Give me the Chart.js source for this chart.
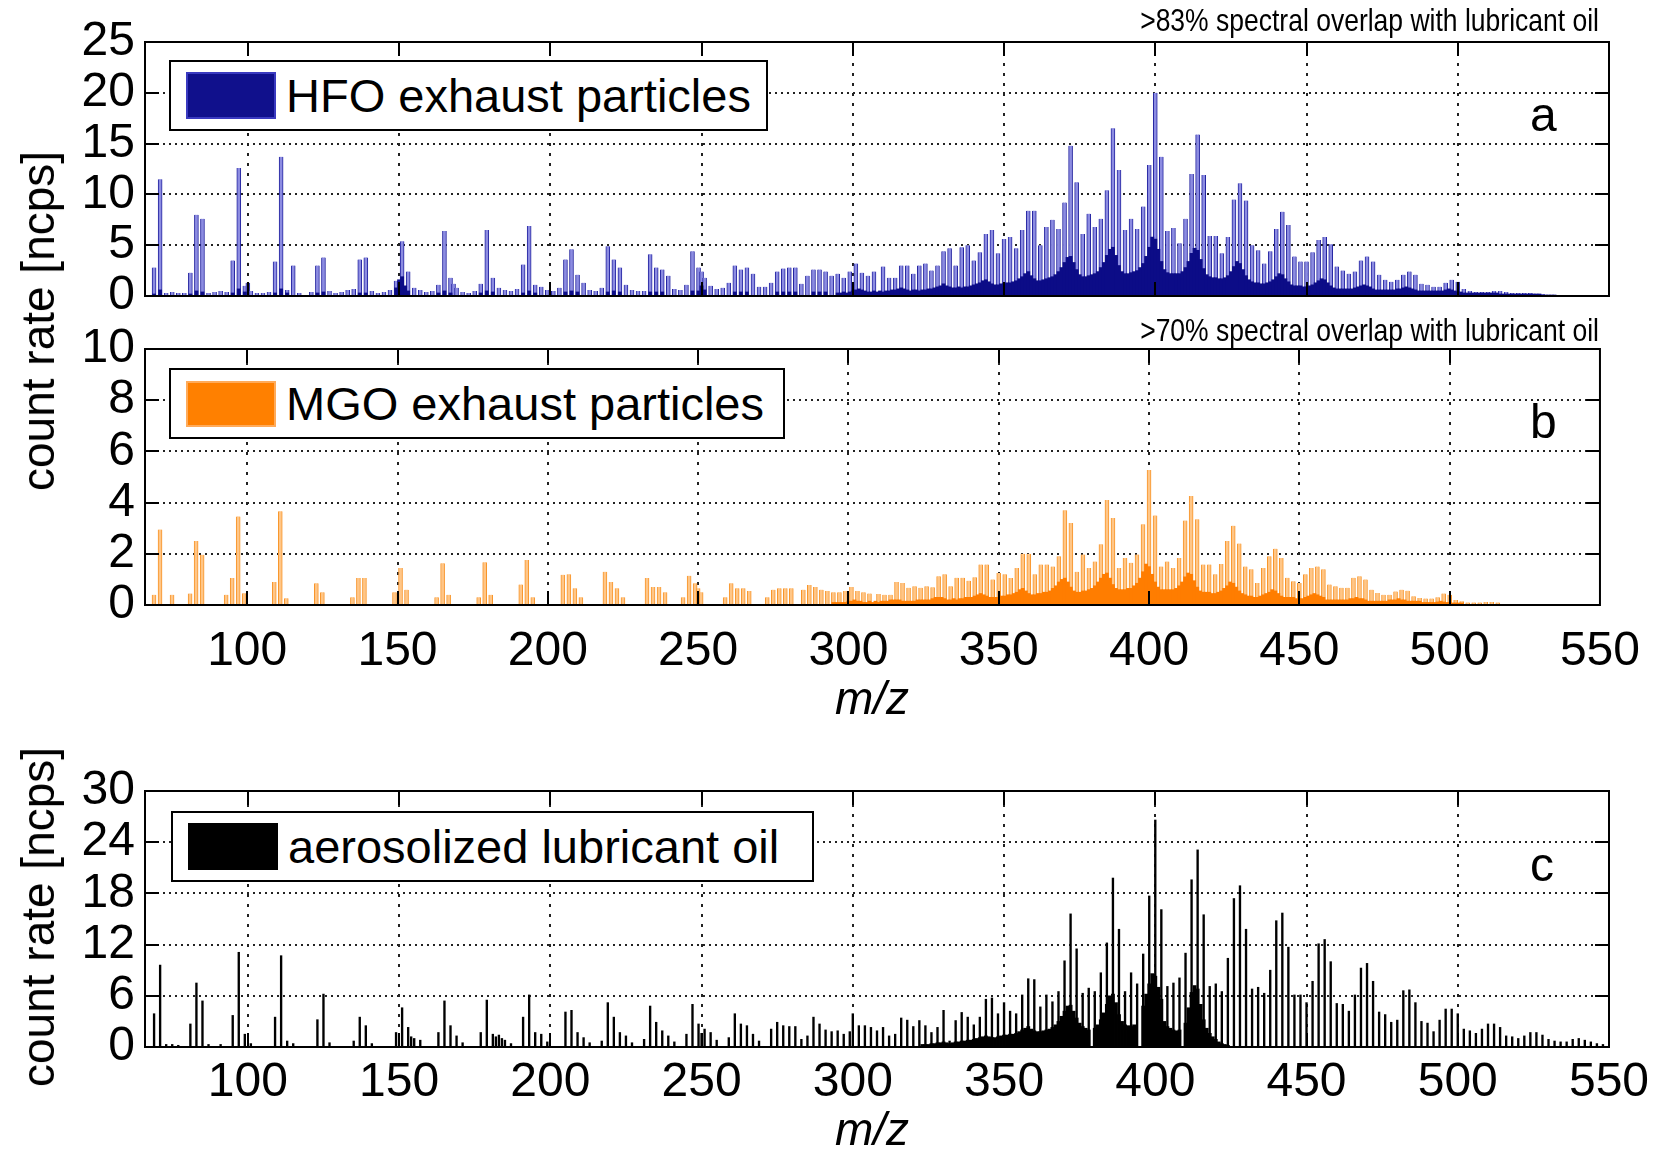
<!DOCTYPE html>
<html>
<head>
<meta charset="utf-8">
<script src="https://cdn.jsdelivr.net/npm/chart.js@4.4.1/dist/chart.umd.min.js"></script>
<style>
html,body{margin:0;padding:0;background:#fff;}
#wrap{position:relative;width:1658px;height:1153px;overflow:hidden;font-family:"Liberation Sans",Arial,Helvetica,sans-serif;color:#000;}
canvas{position:absolute;left:0;top:0;}
.ylab{position:absolute;transform:translate(-50%,-50%) rotate(-90deg);white-space:nowrap;font-size:46px;line-height:1;}
.xlab{position:absolute;transform:translate(-50%,-50%);white-space:nowrap;font-size:46px;line-height:1;font-style:italic;}
.ann{position:absolute;right:59px;white-space:nowrap;font-size:26.5px;line-height:26px;transform:scaleY(1.15);transform-origin:right center;}
.leg{position:absolute;box-sizing:border-box;border:2px solid #000;background:#fff;}
.sw{position:absolute;box-sizing:border-box;}
.lt{position:absolute;top:0;white-space:nowrap;font-size:47px;}
.let{position:absolute;font-size:48px;line-height:48px;}
</style>
</head>
<body>
<div id="wrap">
  <canvas id="ca" width="1658" height="1153"></canvas>
  <canvas id="cb" width="1658" height="1153"></canvas>
  <canvas id="cc" width="1658" height="1153"></canvas>

  <div class="ann" style="top:8px">&gt;83% spectral overlap with lubricant oil</div>
  <div class="ann" style="top:318px">&gt;70% spectral overlap with lubricant oil</div>

  <div class="leg" style="left:169px;top:60px;width:599px;height:71px">
    <div class="sw" style="left:15px;top:10px;width:90px;height:47px;background:#10108c;border:2px solid #3a3ac0"></div>
    <div class="lt" style="left:115px;line-height:67px">HFO exhaust particles</div>
  </div>
  <div class="leg" style="left:169px;top:368px;width:616px;height:71px">
    <div class="sw" style="left:15px;top:11px;width:90px;height:46px;background:#ff8000;border:2px solid #ffab5a"></div>
    <div class="lt" style="left:115px;line-height:67px">MGO exhaust particles</div>
  </div>
  <div class="leg" style="left:171px;top:811px;width:643px;height:71px">
    <div class="sw" style="left:15px;top:10px;width:90px;height:47px;background:#000"></div>
    <div class="lt" style="left:115px;line-height:67px">aerosolized lubricant oil</div>
  </div>

  <div class="let" style="left:1530px;top:91px">a</div>
  <div class="let" style="left:1530px;top:398px">b</div>
  <div class="let" style="left:1530px;top:841px">c</div>

  <div class="ylab" style="left:38px;top:321px">count rate [ncps]</div>
  <div class="ylab" style="left:38px;top:917px">count rate [ncps]</div>
  <div class="xlab" style="left:872px;top:698px">m/z</div>
  <div class="xlab" style="left:872px;top:1129px">m/z</div>
</div>

<script>
// ---------------- data ----------------
const xMin = 66, xMax = 550;
const xTickValues = [100, 150, 200, 250, 300, 350, 400, 450, 500, 550];

// HFO exhaust particles: unit-mass peaks [m/z, count rate]
const hfoPeaks = [
[69,2.8],[71,11.5],[73,0.3],[75,0.4],[77,0.3],[79,0.3],[81,2.3],[83,8.0],[85,7.6],[87,0.3],[89,0.4],[91,0.5],[93,0.4],[95,3.5],[97,12.6],[99,1.0],[100,1.3],[101,0.5],[103,0.3],[105,0.3],[107,0.4],[109,3.4],[111,13.7],[113,0.6],[115,3.0],[117,0.3],[121,0.4],[123,3.0],[125,3.8],[127,0.5],[129,0.3],[131,0.4],[133,0.6],[135,0.7],[137,3.6],[139,3.8],[141,0.5],[143,0.3],[145,0.4],[147,0.6],[149,1.5],[151,5.4],[153,2.4],[155,0.8],[157,0.6],[159,0.4],[161,0.5],[163,1.1],[165,6.4],[167,1.8],[168,1.2],[169,0.8],[171,0.4],[173,0.3],[175,0.5],[177,1.2],[179,6.5],[181,1.8],[183,0.8],[185,0.6],[187,0.5],[189,0.7],[191,3.1],[193,6.9],[195,1.1],[197,0.9],[199,0.6],[201,0.5],[203,0.8],[205,3.6],[207,4.6],[209,2.1],[211,1.3],[213,0.6],[215,0.5],[217,0.8],[219,4.9],[221,3.6],[223,2.8],[225,1.1],[227,0.6],[229,0.5],[231,0.5],[233,4.1],[235,2.8],[237,2.6],[239,2.0],[241,0.7],[243,0.6],[245,1.1],[247,4.4],[249,2.8],[250,2.4],[251,1.8],[253,1.0],[255,0.7],[257,0.8],[259,1.3],[261,3.0],[263,2.6],[265,2.8],[267,2.2],[269,0.9],[271,0.9],[273,1.3],[275,2.4],[277,2.7],[279,2.8],[281,2.8],[283,1.2],[285,2.0],[287,2.6],[289,2.6],[291,2.4],[293,2.0],[295,2.2],[297,1.8],[299,2.4],[301,3.2],[303,2.3],[305,2.0],[307,2.4],
[310,2.9],[312,1.8],[314,1.8],[316,3.0],[318,3.0],[320,2.2],[322,3.0],[324,3.2],[326,2.5],[328,3.0],[330,4.4],[332,4.7],[334,3.0],[336,4.8],[338,5.0],[340,3.5],[342,4.3],[344,6.1],[346,6.5],[348,4.2],[350,5.6],[352,5.8],[354,4.7],[356,6.5],[358,8.4],[360,8.4],[362,5.0],[364,6.8],[366,7.5],[368,6.6],[370,9.2],[372,14.8],[374,11.2],[376,6.1],[378,8.1],[380,6.8],[382,7.6],[384,10.4],[386,16.5],[388,12.4],[390,6.5],[392,7.6],[394,6.6],[396,8.8],[398,12.9],[400,20.0],[402,13.7],[404,6.4],[406,6.7],[408,5.2],[410,7.6],[412,12.0],[414,15.9],[416,11.9],[418,5.9],[420,5.9],[422,4.2],[424,5.8],[426,9.5],[428,11.1],[430,9.4],[432,5.0],[434,4.5],[436,3.2],[438,4.4],[440,6.6],[442,8.3],[444,7.0],[446,3.9],[448,3.4],[450,3.4],[452,4.3],[454,5.5],[456,5.8],[458,5.1],[460,2.9],[462,2.5],[464,2.2],[466,2.4],[468,3.5],[470,3.9],[472,3.4],[474,2.1],[476,1.6],[478,1.4],[480,1.6],[482,2.1],[484,2.4],[486,2.1],[488,1.2],[490,1.1],[492,0.9],[494,0.9],[496,1.3],[498,1.6],[500,1.4],[502,0.7],[504,0.5],[506,0.4],[508,0.4],[510,0.4],[512,0.5],[514,0.5],[516,0.4],[518,0.3],[520,0.3],[522,0.3],[524,0.3],[526,0.2],[528,0.2]
];
// HFO: dense (high-resolution) signal, low-mass part [m/z, count rate]
const hfoDarkLow = [
[69,0.2],[71,0.6],[81,0.2],[83,0.5],[85,0.4],[95,0.3],[97,0.7],[99,0.4],[109,0.3],[111,0.7],[113,0.3],[123,0.3],[125,0.4],[137,0.3],[139,0.3],[149,0.8],[150,1.6],[151,1.9],[152,1.0],[153,0.5],[163,0.3],[165,0.5],[167,0.3],[177,0.3],[179,0.5],[181,0.4],[191,0.3],[193,0.5],[195,0.3],[205,0.4],[207,0.5],[209,0.4],[219,0.4],[221,0.5],[223,0.4],[233,0.4],[235,0.4],[237,0.4],[247,0.5],[249,0.5],[250,1.0],[251,0.6],[261,0.4],[263,0.4],[265,0.4],[275,0.4],[277,0.4],[279,0.4],[281,0.4],[287,0.4],[289,0.4],[291,0.4]
];
// HFO: dense signal, one value per unit m/z starting at m/z 295
const hfoDarkStart = 295;
const hfoDark = [
0.3,0.3,0.4,0.3,0.4,0.5,0.6,0.7,0.6,0.5,0.4,0.4,0.5,0.4,
0.5,0.4,0.5,0.5,0.6,0.6,0.7,0.8,0.7,0.6,0.5,0.6,0.6,0.5,
0.6,0.6,0.7,0.7,0.8,0.9,1.0,1.2,1.0,0.9,0.8,0.8,0.9,0.8,
0.9,0.9,1.0,1.1,1.2,1.3,1.5,1.6,1.4,1.2,1.1,1.1,1.2,1.2,
1.3,1.3,1.4,1.5,1.7,1.9,2.2,2.4,2.0,1.7,1.5,1.5,1.6,1.7,
1.8,1.9,2.1,2.4,2.8,3.3,3.8,3.9,3.3,2.6,2.1,1.9,1.9,2.0,
2.1,2.2,2.4,2.8,3.3,4.0,4.6,4.8,4.0,3.0,2.4,2.2,2.2,2.3,
2.4,2.5,2.8,3.2,3.9,4.8,5.8,5.6,4.6,3.4,2.6,2.3,2.2,2.2,
2.2,2.2,2.4,2.8,3.4,4.2,4.7,4.5,3.6,2.7,2.1,1.9,1.8,1.8,
1.7,1.7,1.8,2.0,2.4,2.9,3.4,3.2,2.6,2.0,1.6,1.4,1.3,1.3,
1.2,1.2,1.3,1.4,1.6,1.9,2.2,2.1,1.7,1.4,1.1,1.0,1.0,1.0,
0.9,0.9,1.0,1.1,1.3,1.5,1.7,1.6,1.3,1.0,0.8,0.7,0.7,0.7,
0.7,0.7,0.7,0.8,0.9,1.0,1.1,1.0,0.9,0.7,0.6,0.6,0.6,0.6,
0.6,0.6,0.6,0.7,0.7,0.8,0.9,0.8,0.7,0.6,0.5,0.5,0.5,0.5,
0.5,0.5,0.5,0.5,0.5,0.6,0.7,0.6,0.5,0.4,0.4,0.3,0.3,0.3,
0.3,0.3,0.3,0.3,0.3,0.3,0.3,0.3,0.3,0.2,0.2,0.2,0.2,0.2,
0.2,0.2,0.2,0.2,0.2,0.2,0.2,0.2,0.2,0.1,0.1,0.1,0.1,0.1
];

// MGO exhaust particles: unit-mass peaks [m/z, count rate]
const mgoPeaks = [
[69,0.4],[71,2.95],[75,0.4],[81,0.45],[83,2.5],[85,1.96],[93,0.4],[95,1.05],[97,3.46],[99,0.46],[109,0.9],[111,3.66],[113,0.26],[123,0.85],[125,0.5],[135,0.3],[137,1.05],[139,1.05],[149,0.5],[151,1.45],[153,0.6],[163,0.3],[165,1.63],[167,0.4],[177,0.3],[179,1.67],[181,0.4],[191,0.8],[193,1.76],[195,0.3],[205,1.18],[207,1.2],[209,0.65],[211,0.3],[219,1.3],[221,0.9],[223,0.65],[225,0.3],[233,1.05],[235,0.7],[237,0.7],[239,0.5],[245,0.3],[247,1.14],[249,0.85],[250,0.65],[251,0.5],[259,0.3],[261,0.85],[263,0.65],[265,0.65],[267,0.55],[273,0.3],[275,0.6],[277,0.65],[279,0.65],[281,0.65],[285,0.6],[287,0.78],[289,0.7],[291,0.6],[293,0.55],[295,0.5],[297,0.5],[299,0.55],[301,0.7],[303,0.55],[305,0.5],[307,0.45],
[310,0.43],[312,0.4],[314,0.4],[316,0.9],[318,0.86],[320,0.67],[322,0.73],[324,0.67],[326,0.73],[328,0.69],[330,1.12],[332,1.2],[334,0.73],[336,1.06],[338,1.06],[340,0.95],[342,1.08],[344,1.58],[346,1.58],[348,1.0],[350,1.25],[352,1.2],[354,1.05],[356,1.45],[358,2.0],[360,2.0],[362,1.2],[364,1.58],[366,1.58],[368,1.5],[370,1.9],[372,3.7],[374,3.2],[376,1.3],[378,1.97],[380,1.45],[382,1.7],[384,2.37],[386,4.1],[388,3.4],[390,1.45],[392,1.84],[394,1.65],[396,1.97],[398,3.15],[400,5.27],[402,3.5],[404,1.5],[406,1.7],[408,1.45],[410,1.84],[412,3.3],[414,4.26],[416,3.35],[418,1.58],[420,1.58],[422,1.2],[424,1.6],[426,2.5],[428,3.1],[430,2.4],[432,1.5],[434,1.4],[436,0.86],[438,1.45],[440,1.9],[442,2.2],[444,1.84],[446,1.06],[448,0.93],[450,0.86],[452,1.2],[454,1.45],[456,1.5],[458,1.4],[460,0.8],[462,0.73],[464,0.67],[466,0.67],[468,1.06],[470,1.12],[472,1.0],[474,0.6],[476,0.47],[478,0.4],[480,0.4],[482,0.53],[484,0.6],[486,0.56],[488,0.34],[490,0.27],[492,0.25],[494,0.25],[496,0.3],[498,0.45],[500,0.4],[502,0.2],[504,0.15],[506,0.1],[508,0.1],[510,0.1],[512,0.12],[514,0.12],[516,0.1]
];
const mgoDarkStart = 295;
const mgoDark = [
0.1,0.1,0.1,0.1,0.1,0.15,0.15,0.2,0.15,0.15,0.1,0.1,0.15,0.1,
0.15,0.1,0.15,0.15,0.15,0.2,0.2,0.2,0.2,0.15,0.15,0.15,0.15,0.15,
0.2,0.2,0.2,0.2,0.2,0.25,0.3,0.3,0.3,0.25,0.2,0.2,0.25,0.2,
0.25,0.25,0.3,0.3,0.3,0.35,0.4,0.45,0.4,0.35,0.3,0.3,0.3,0.3,
0.35,0.35,0.4,0.4,0.45,0.5,0.6,0.65,0.55,0.45,0.4,0.4,0.45,0.45,
0.5,0.5,0.55,0.65,0.75,0.9,1.0,1.05,0.9,0.7,0.55,0.5,0.5,0.55,
0.55,0.6,0.65,0.75,0.9,1.05,1.2,1.25,1.05,0.8,0.65,0.6,0.6,0.6,
0.65,0.65,0.75,0.85,1.05,1.3,1.6,1.5,1.2,0.9,0.7,0.6,0.6,0.6,
0.6,0.6,0.65,0.75,0.9,1.1,1.25,1.2,0.95,0.7,0.55,0.5,0.5,0.5,
0.45,0.45,0.5,0.55,0.65,0.75,0.9,0.85,0.7,0.55,0.45,0.4,0.35,0.35,
0.3,0.3,0.35,0.4,0.45,0.5,0.6,0.55,0.45,0.35,0.3,0.3,0.3,0.3,
0.25,0.25,0.25,0.3,0.35,0.4,0.45,0.4,0.35,0.3,0.2,0.2,0.2,0.2,
0.2,0.2,0.2,0.2,0.25,0.25,0.3,0.25,0.25,0.2,0.15,0.15,0.15,0.15,
0.15,0.15,0.15,0.2,0.2,0.2,0.25,0.2,0.2,0.15,0.15,0.15,0.15,0.15,
0.1,0.1,0.1,0.1,0.1,0.12,0.15,0.12,0.1,0.1,0.08,0.08,0.08,0.08
];

// aerosolized lubricant oil: unit-mass peaks [m/z, count rate]
const lubePeaks = [
[69,3.9],[71,9.6],[73,0.3],[75,0.3],[77,0.2],[81,2.7],[83,7.5],[85,5.4],[87,0.3],[91,0.3],[95,3.7],[97,11.1],[99,1.5],[101,0.4],[109,3.5],[111,10.7],[113,0.7],[115,0.4],[123,3.2],[125,6.2],[127,0.5],[135,0.7],[137,3.5],[139,2.5],[141,0.4],[149,1.7],[151,4.6],[153,2.3],[154,1.2],[155,1.0],[157,0.8],[163,1.7],[165,5.4],[167,2.5],[169,1.3],[171,0.5],[177,1.7],[179,5.5],[181,1.5],[182,1.2],[183,1.4],[184,1.0],[185,0.8],[187,0.4],[191,3.5],[193,6.1],[195,1.7],[197,1.5],[199,0.6],[205,4.1],[207,4.3],[209,1.7],[211,1.1],[213,0.5],[217,0.7],[219,5.2],[221,3.5],[223,1.7],[225,1.3],[227,0.5],[231,0.9],[233,4.8],[235,2.9],[237,1.9],[239,1.3],[241,0.6],[245,1.5],[247,5.0],[249,2.7],[250,1.6],[251,2.1],[253,1.7],[255,0.8],[259,1.1],[261,3.9],[263,2.7],[265,2.5],[267,1.5],[269,0.7],[273,2.1],[275,2.9],[277,2.5],[279,2.4],[281,2.4],[283,0.9],[285,1.3],[287,3.5],[289,2.7],[291,2.0],[293,1.8],[295,1.9],[297,1.5],[299,1.8],[300,3.9],[302,2.5],[304,2.5],[306,2.3],[308,1.9],
[310,2.3],[312,1.3],[314,1.5],[316,3.4],[318,3.15],[320,2.4],[322,3.1],[324,2.5],[326,1.7],[328,2.3],[330,4.3],[332,0.7],[334,3.1],[336,4.05],[338,3.5],[340,2.6],[342,3.5],[344,5.6],[346,5.75],[348,3.9],[350,5.2],[352,4.2],[354,3.9],[356,6.1],[358,8.0],[360,7.9],[362,4.7],[364,6.1],[366,5.3],[368,6.5],[370,10.1],[372,15.6],[374,11.5],[376,6.3],[378,6.9],[380,6.5],[382,8.7],[384,12.2],[386,19.8],[388,13.8],[390,6.5],[392,8.7],[394,7.4],[396,10.9],[398,17.7],[400,26.6],[402,16.1],[404,7.1],[406,7.5],[408,8.1],[410,11.0],[412,19.6],[414,23.1],[416,15.5],[418,7.1],[420,7.4],[422,6.5],[424,10.4],[426,17.4],[428,18.9],[430,13.8],[432,6.8],[434,7.0],[436,6.3],[438,9.0],[440,14.8],[442,15.7],[444,11.7],[446,6.1],[448,6.1],[450,5.2],[452,7.7],[454,12.1],[456,12.6],[458,10.0],[460,5.1],[462,5.0],[464,4.2],[466,6.1],[468,9.25],[470,9.8],[472,7.7],[474,4.1],[476,3.8],[478,2.9],[480,3.15],[482,6.6],[484,6.7],[486,5.2],[488,3.0],[490,2.8],[492,1.8],[494,3.15],[496,4.45],[498,4.45],[500,3.9],[502,2.1],[504,1.9],[506,1.6],[508,2.1],[510,2.7],[512,2.7],[514,2.3],[516,1.3],[518,1.2],[520,1.0],[522,1.3],[524,1.7],[526,1.7],[528,1.4],[530,0.9],[532,0.7],[534,0.6],[536,0.6],[538,0.9],[540,1.0],[542,0.8],[544,0.6],[546,0.4],[548,0.3]
];
const lubeDarkStart = 323;
const lubeDark = [
0.3,0.3,0.3,0.4,0.4,0.5,0.5,0.6,0.5,0.4,0.5,0.6,0.6,0.7,
0.7,0.8,0.8,0.9,1.0,1.1,1.2,1.3,1.2,1.1,1.1,1.2,1.3,1.4,
1.4,1.5,1.5,1.6,1.8,2.0,2.2,2.4,2.1,1.9,1.8,1.8,1.9,2.0,
2.1,2.3,2.6,3.0,3.6,4.2,4.8,4.9,4.2,3.4,2.8,2.4,2.2,2.0,
0,2.2,2.6,3.2,4.0,5.0,6.0,6.2,5.2,3.8,3.0,2.6,2.5,2.4,
2.6,0,0,4.8,6.2,7.4,8.6,8.3,7.0,5.6,3.0,2.4,2.2,2.0,
1.9,2.0,0,2.8,4.6,6.4,7.2,6.8,5.0,3.2,2.2,1.6,1.2,0.9,
0.6,0.4,0.3,0.2
];

// y-axis ranges
const hfoY = { max: 25, step: 5 };
const mgoY = { max: 10, step: 2 };
const lubeY = { max: 30, step: 6 };

// ---------------- helpers ----------------
const pairsToPts = p => p.map(d => ({ x: d[0], y: d[1] }));
const runToPts = (start, vals) => vals.map((v, i) => ({ x: start + i, y: v }));

Chart.defaults.font.family = '"Liberation Sans", Arial, Helvetica, sans-serif';
Chart.defaults.color = '#000';

const matlabAxes = {
  id: 'matlabAxes',
  beforeDatasetsDraw(chart) {
    const { ctx, chartArea: a, scales: { x, y } } = chart;
    ctx.save();
    ctx.strokeStyle = '#222';
    ctx.lineWidth = 2;
    ctx.setLineDash([3, 7]);
    xTickValues.forEach(v => {
      if (v <= x.min || v >= x.max) return;
      const px = Math.round(x.getPixelForValue(v));
      ctx.beginPath(); ctx.moveTo(px, a.bottom); ctx.lineTo(px, a.top); ctx.stroke();
    });
    ctx.setLineDash([2, 4]);
    y.ticks.forEach(t => {
      if (t.value <= y.min || t.value >= y.max) return;
      const py = Math.round(y.getPixelForValue(t.value));
      ctx.beginPath(); ctx.moveTo(a.left, py); ctx.lineTo(a.right, py); ctx.stroke();
    });
    ctx.restore();
  },
  afterDatasetsDraw(chart) {
    const { ctx, chartArea: a, scales: { x, y } } = chart;
    const tl = 14;
    ctx.save();
    ctx.setLineDash([]);
    ctx.strokeStyle = '#000';
    ctx.lineWidth = 2;
    ctx.beginPath();
    xTickValues.forEach(v => {
      if (v <= x.min || v >= x.max) return;
      const px = Math.round(x.getPixelForValue(v));
      ctx.moveTo(px, a.top); ctx.lineTo(px, a.top + tl);
      ctx.moveTo(px, a.bottom); ctx.lineTo(px, a.bottom - tl);
    });
    y.ticks.forEach(t => {
      if (t.value <= y.min || t.value >= y.max) return;
      const py = Math.round(y.getPixelForValue(t.value));
      ctx.moveTo(a.left, py); ctx.lineTo(a.left + tl, py);
      ctx.moveTo(a.right, py); ctx.lineTo(a.right - tl, py);
    });
    ctx.stroke();
    ctx.strokeRect(a.left, a.top, a.right - a.left, a.bottom - a.top);
    ctx.restore();
  }
};

function makePanel(id, o) {
  const W = 1658, H = 1153, YW = 140;
  return new Chart(document.getElementById(id), {
    type: 'bar',
    data: {
      datasets: [
        { label: o.label + ' (dense)', data: o.dark, backgroundColor: o.darkColor, borderWidth: 0,
          barThickness: o.darkThick, grouped: false, order: 0 },
        { label: o.label, data: o.light, backgroundColor: o.lightFill, borderColor: o.lightEdge,
          borderWidth: o.lightBorder, borderSkipped: 'start', barThickness: o.lightThick, grouped: false, order: 1 }
      ]
    },
    options: {
      responsive: false, animation: false, devicePixelRatio: 1,
      layout: { padding: { left: o.area.left - YW, top: o.area.top, right: W - o.area.right, bottom: H - o.area.bottom - o.xh } },
      plugins: { legend: { display: false }, tooltip: { enabled: false } },
      scales: {
        x: {
          type: 'linear', min: xMin, max: xMax, offset: false,
          grid: { display: false, drawTicks: false, offset: false }, border: { display: false },
          afterBuildTicks: s => { s.ticks = xTickValues.map(v => ({ value: v })); },
          afterFit: s => { s.height = o.xh; },
          ticks: { display: o.showX, padding: o.xPad, font: { size: 48 }, color: '#000', maxRotation: 0, autoSkip: false }
        },
        y: {
          min: 0, max: o.yMax,
          grid: { display: false, drawTicks: false }, border: { display: false },
          afterFit: s => { s.width = YW; },
          ticks: { stepSize: o.yStep, padding: 10, font: { size: 48 }, color: '#000', autoSkip: false }
        }
      }
    },
    plugins: [matlabAxes]
  });
}

makePanel('ca', {
  label: 'HFO exhaust particles',
  light: pairsToPts(hfoPeaks),
  dark: pairsToPts(hfoDarkLow).concat(runToPts(hfoDarkStart, hfoDark)),
  lightFill: 'rgb(140,140,225)', lightEdge: 'rgb(35,35,160)', lightBorder: { left: 1, right: 1, top: 0, bottom: 0 }, lightThick: 4,
  darkColor: 'rgb(12,12,135)', darkThick: 3.2,
  yMax: hfoY.max, yStep: hfoY.step,
  area: { left: 145, right: 1609, top: 42, bottom: 296 }, xh: 0, showX: false, xPad: 0
});
makePanel('cb', {
  label: 'MGO exhaust particles',
  light: pairsToPts(mgoPeaks),
  dark: runToPts(mgoDarkStart, mgoDark),
  lightFill: 'rgb(255,198,135)', lightEdge: 'rgb(248,148,40)', lightBorder: { left: 1, right: 1, top: 0, bottom: 0 }, lightThick: 4,
  darkColor: 'rgb(255,125,0)', darkThick: 3.2,
  yMax: mgoY.max, yStep: mgoY.step,
  area: { left: 145, right: 1609, top: 349, bottom: 605 }, xh: 90, showX: true, xPad: 18
});
makePanel('cc', {
  label: 'aerosolized lubricant oil',
  light: pairsToPts(lubePeaks),
  dark: runToPts(lubeDarkStart, lubeDark),
  lightFill: 'rgb(0,0,0)', lightEdge: 'rgb(0,0,0)', lightBorder: 0, lightThick: 1.7,
  darkColor: 'rgb(0,0,0)', darkThick: 3.2,
  yMax: lubeY.max, yStep: lubeY.step,
  area: { left: 145, right: 1609, top: 791, bottom: 1047 }, xh: 90, showX: true, xPad: 7
});
</script>
</body>
</html>
